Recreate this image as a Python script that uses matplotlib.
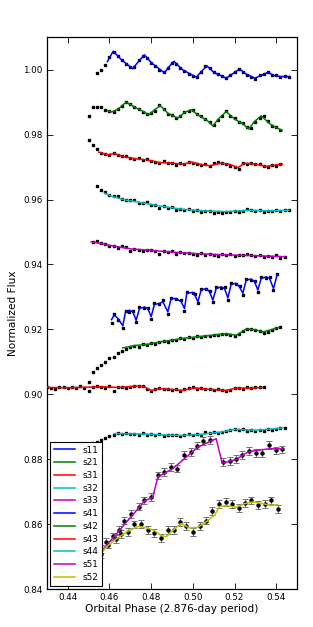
import numpy as np
import matplotlib
matplotlib.use("Agg")
import matplotlib.pyplot as plt

#########################################################
# data
#########################################################
# common phase sampling of the photometry (step 0.002)
grid = [0.430, 0.432, 0.434, 0.436, 0.438, 0.440, 0.442, 0.444, 0.446, 0.448,
        0.450, 0.452, 0.454, 0.456, 0.458, 0.460, 0.462, 0.464, 0.466, 0.468,
        0.470, 0.472, 0.474, 0.476, 0.478, 0.480, 0.482, 0.484, 0.486, 0.488,
        0.490, 0.492, 0.494, 0.496, 0.498, 0.500, 0.502, 0.504, 0.506, 0.508,
        0.510, 0.512, 0.514, 0.516, 0.518, 0.520, 0.522, 0.524, 0.526, 0.528,
        0.530, 0.532, 0.534, 0.536, 0.538, 0.540, 0.542, 0.544, 0.546]

# s11
s11_start = 0.454
s11_flux = [0.9990, 1.0000, 1.0015, 1.0038, 1.0055, 1.0043, 1.0030, 1.0017, 1.0007, 1.0008,
            1.0030, 1.0042, 1.0036, 1.0021, 1.0011, 0.9998, 0.9993, 1.0006, 1.0021, 1.0019,
            1.0005, 0.9996, 0.9987, 0.9982, 0.9979, 0.9993, 1.0010, 1.0006, 0.9994, 0.9986,
            0.9981, 0.9973, 0.9983, 0.9993, 1.0002, 0.9994, 0.9984, 0.9979, 0.9972, 0.9983,
            0.9986, 0.9994, 0.9985, 0.9983, 0.9978, 0.9980, 0.9978]
s11_mx = [0.4590, 0.4618, 0.4655, 0.4711, 0.4730, 0.4768, 0.4800, 0.4864, 0.4880, 0.4909,
          0.4950, 0.5016, 0.5035, 0.5067, 0.5100, 0.5160, 0.5185, 0.5224, 0.5255, 0.5296,
          0.5320, 0.5360, 0.5390, 0.5420, 0.5461]
s11_my = [1.0025, 1.0057, 1.0032, 1.0003, 1.0018, 1.0046, 1.0022, 0.9990, 1.0005, 1.0026,
          1.0000, 0.9977, 0.9990, 1.0012, 0.9992, 0.9974, 0.9985, 1.0002, 0.9987, 0.9974,
          0.9980, 0.9992, 0.9982, 0.9979, 0.9979]

# s21
s21_start = 0.450
s21_flux = [0.9856, 0.9884, 0.9886, 0.9885, 0.9875, 0.9873, 0.9870, 0.9880, 0.9888, 0.9900,
            0.9894, 0.9884, 0.9880, 0.9870, 0.9864, 0.9866, 0.9874, 0.9890, 0.9880, 0.9864,
            0.9860, 0.9851, 0.9856, 0.9869, 0.9874, 0.9876, 0.9862, 0.9856, 0.9848, 0.9838,
            0.9829, 0.9845, 0.9858, 0.9872, 0.9858, 0.9850, 0.9838, 0.9835, 0.9822, 0.9820,
            0.9838, 0.9852, 0.9856, 0.9843, 0.9828, 0.9823, 0.9814]
s21_mx = [0.4591, 0.4610, 0.4640, 0.4680, 0.4720, 0.4760, 0.4789, 0.4815, 0.4844, 0.4880,
          0.4928, 0.4960, 0.4992, 0.5030, 0.5070, 0.5096, 0.5125, 0.5160, 0.5200, 0.5240,
          0.5269, 0.5295, 0.5328, 0.5370, 0.5400, 0.5429]
s21_my = [0.9874, 0.9870, 0.9878, 0.9900, 0.9885, 0.9872, 0.9861, 0.9876, 0.9889, 0.9866,
          0.9851, 0.9868, 0.9877, 0.9858, 0.9843, 0.9827, 0.9850, 0.9871, 0.9848, 0.9833,
          0.9817, 0.9840, 0.9858, 0.9833, 0.9822, 0.9813]

# s31
s31_start = 0.450
s31_flux = [0.9782, 0.9768, 0.9755, 0.9743, 0.9741, 0.9737, 0.9744, 0.9738, 0.9733, 0.9735,
            0.9727, 0.9725, 0.9729, 0.9721, 0.9726, 0.9719, 0.9716, 0.9714, 0.9718, 0.9711,
            0.9714, 0.9707, 0.9711, 0.9708, 0.9716, 0.9713, 0.9710, 0.9706, 0.9709, 0.9702,
            0.9712, 0.9715, 0.9711, 0.9709, 0.9703, 0.9700, 0.9694, 0.9713, 0.9710, 0.9712,
            0.9708, 0.9710, 0.9702, 0.9700, 0.9705, 0.9703, 0.9710]
s31_mx = [0.4549, 0.4591, 0.4624, 0.4660, 0.4720, 0.4780, 0.4840, 0.4900, 0.4952, 0.4997,
          0.5040, 0.5080, 0.5136, 0.5180, 0.5216, 0.5248, 0.5304, 0.5352, 0.5390, 0.5429]
s31_my = [0.9746, 0.9738, 0.9742, 0.9733, 0.9726, 0.9722, 0.9714, 0.9712, 0.9709, 0.9715,
          0.9708, 0.9704, 0.9712, 0.9708, 0.9698, 0.9712, 0.9709, 0.9702, 0.9706, 0.9709]

# s32
s32_start = 0.454
s32_flux = [0.9643, 0.9630, 0.9622, 0.9615, 0.9610, 0.9612, 0.9603, 0.9600, 0.9597, 0.9598,
            0.9590, 0.9588, 0.9591, 0.9582, 0.9583, 0.9574, 0.9579, 0.9574, 0.9576, 0.9569,
            0.9572, 0.9567, 0.9570, 0.9566, 0.9568, 0.9562, 0.9566, 0.9564, 0.9560, 0.9563,
            0.9558, 0.9563, 0.9561, 0.9565, 0.9562, 0.9566, 0.9570, 0.9568, 0.9565, 0.9569,
            0.9563, 0.9566, 0.9564, 0.9568, 0.9565, 0.9568, 0.9569]
s32_mx = [0.4576, 0.4620, 0.4680, 0.4740, 0.4800, 0.4860, 0.4952, 0.5060, 0.5160, 0.5272,
          0.5360, 0.5461]
s32_my = [0.9619, 0.9608, 0.9598, 0.9592, 0.9585, 0.9578, 0.9570, 0.9565, 0.9563, 0.9567,
          0.9565, 0.9567]

# s33
s33_start = 0.452
s33_flux = [0.9468, 0.9472, 0.9465, 0.9462, 0.9456, 0.9458, 0.9451, 0.9457, 0.9455, 0.9442,
            0.9449, 0.9446, 0.9441, 0.9445, 0.9443, 0.9440, 0.9431, 0.9442, 0.9437, 0.9440,
            0.9433, 0.9437, 0.9434, 0.9436, 0.9432, 0.9430, 0.9435, 0.9428, 0.9432, 0.9430,
            0.9427, 0.9431, 0.9429, 0.9432, 0.9427, 0.9430, 0.9428, 0.9431, 0.9430, 0.9426,
            0.9428, 0.9422, 0.9427, 0.9423, 0.9428, 0.9421, 0.9424]
s33_mx = [0.4512, 0.4600, 0.4700, 0.4792, 0.4900, 0.5000, 0.5100, 0.5192, 0.5300, 0.5440]
s33_my = [0.9470, 0.9459, 0.9448, 0.9444, 0.9438, 0.9434, 0.9431, 0.9429, 0.9427, 0.9424]

# s41 (sampled more finely)
s41_x = [0.4610, 0.4622, 0.4640, 0.4664, 0.4677, 0.4696, 0.4712, 0.4728, 0.4744, 0.4768,
         0.4784, 0.4800, 0.4816, 0.4840, 0.4856, 0.4880, 0.4896, 0.4920, 0.4944, 0.4960,
         0.4971, 0.5000, 0.5010, 0.5024, 0.5040, 0.5064, 0.5080, 0.5096, 0.5112, 0.5136,
         0.5152, 0.5168, 0.5184, 0.5208, 0.5224, 0.5240, 0.5256, 0.5280, 0.5296, 0.5312,
         0.5328, 0.5352, 0.5368, 0.5387, 0.5405]
s41_flux = [0.9220, 0.9248, 0.9230, 0.9205, 0.9258, 0.9255, 0.9257, 0.9222, 0.9268, 0.9266,
            0.9267, 0.9233, 0.9280, 0.9278, 0.9289, 0.9248, 0.9297, 0.9292, 0.9289, 0.9258,
            0.9314, 0.9312, 0.9309, 0.9280, 0.9324, 0.9323, 0.9319, 0.9284, 0.9329, 0.9328,
            0.9330, 0.9291, 0.9342, 0.9339, 0.9334, 0.9305, 0.9355, 0.9352, 0.9350, 0.9315,
            0.9360, 0.9359, 0.9361, 0.9320, 0.9372]
s41_my = [0.9230, 0.9244, 0.9234, 0.9211, 0.9254, 0.9259, 0.9254, 0.9228, 0.9264, 0.9269,
          0.9264, 0.9239, 0.9277, 0.9280, 0.9285, 0.9254, 0.9295, 0.9295, 0.9285, 0.9264,
          0.9311, 0.9314, 0.9305, 0.9285, 0.9321, 0.9326, 0.9316, 0.9290, 0.9326, 0.9331,
          0.9326, 0.9297, 0.9339, 0.9342, 0.9331, 0.9311, 0.9352, 0.9355, 0.9347, 0.9321,
          0.9357, 0.9362, 0.9357, 0.9326, 0.9369]

# s42
s42_start = 0.450
s42_flux = [0.9038, 0.9070, 0.9082, 0.9090, 0.9098, 0.9112, 0.9116, 0.9126, 0.9133, 0.9140,
            0.9146, 0.9150, 0.9147, 0.9155, 0.9152, 0.9158, 0.9156, 0.9160, 0.9163, 0.9161,
            0.9167, 0.9166, 0.9172, 0.9170, 0.9175, 0.9174, 0.9178, 0.9176, 0.9180, 0.9178,
            0.9183, 0.9182, 0.9187, 0.9185, 0.9183, 0.9180, 0.9187, 0.9196, 0.9202, 0.9200,
            0.9198, 0.9195, 0.9190, 0.9193, 0.9199, 0.9204, 0.9206]
s42_mx = [0.4664, 0.4720, 0.4792, 0.4840, 0.4952, 0.5048, 0.5160, 0.5208, 0.5256, 0.5300,
          0.5336, 0.5370, 0.5413]
s42_my = [0.9143, 0.9150, 0.9155, 0.9161, 0.9172, 0.9179, 0.9187, 0.9182, 0.9201, 0.9199,
          0.9192, 0.9198, 0.9206]

# s43
s43_start = 0.430
s43_flux = [0.9022, 0.9019, 0.9017, 0.9022, 0.9021, 0.9019, 0.9022, 0.9020, 0.9024, 0.9019,
            0.9010, 0.9022, 0.9025, 0.9023, 0.9020, 0.9025, 0.9010, 0.9021, 0.9022, 0.9019,
            0.9021, 0.9025, 0.9027, 0.9024, 0.9015, 0.9011, 0.9016, 0.9018, 0.9015, 0.9017,
            0.9014, 0.9016, 0.9010, 0.9015, 0.9018, 0.9021, 0.9016, 0.9019, 0.9015, 0.9017,
            0.9013, 0.9016, 0.9012, 0.9010, 0.9014, 0.9018, 0.9020, 0.9017, 0.9022, 0.9020,
            0.9022, 0.9021, 0.9022]
s43_mx = [0.4300, 0.4400, 0.4500, 0.4560, 0.4650, 0.4737, 0.4770, 0.4799, 0.4840, 0.4900,
          0.4952, 0.5010, 0.5060, 0.5160, 0.5208, 0.5280, 0.5336]
s43_my = [0.9021, 0.9020, 0.9022, 0.9023, 0.9021, 0.9026, 0.9022, 0.9012, 0.9017, 0.9015,
          0.9012, 0.9020, 0.9016, 0.9012, 0.9019, 0.9019, 0.9021]

# s44
s44_start = 0.454
s44_flux = [0.8852, 0.8860, 0.8865, 0.8870, 0.8876, 0.8880, 0.8878, 0.8881, 0.8877, 0.8879,
            0.8876, 0.8882, 0.8875, 0.8878, 0.8874, 0.8877, 0.8872, 0.8876, 0.8873, 0.8875,
            0.8871, 0.8874, 0.8878, 0.8875, 0.8879, 0.8876, 0.8883, 0.8880, 0.8885, 0.8881,
            0.8884, 0.8888, 0.8890, 0.8893, 0.8890, 0.8892, 0.8888, 0.8889, 0.8886, 0.8890,
            0.8888, 0.8893, 0.8891, 0.8892, 0.8895, 0.8897]
s44_mx = [0.4624, 0.4700, 0.4792, 0.4880, 0.4952, 0.5050, 0.5100, 0.5140, 0.5200, 0.5300,
          0.5360, 0.5432]
s44_my = [0.8879, 0.8878, 0.8877, 0.8874, 0.8873, 0.8877, 0.8881, 0.8884, 0.8892, 0.8889,
          0.8892, 0.8896]

# s51 (binned, with errors)
s51_x = [0.4560, 0.4584, 0.4616, 0.4645, 0.4672, 0.4704, 0.4741, 0.4768, 0.4800, 0.4832,
         0.4864, 0.4896, 0.4923, 0.4960, 0.4992, 0.5019, 0.5051, 0.5084, 0.5144, 0.5176,
         0.5208, 0.5237, 0.5269, 0.5301, 0.5333, 0.5365, 0.5397, 0.5429]
s51_flux = [0.8524, 0.8544, 0.8562, 0.8582, 0.8611, 0.8632, 0.8654, 0.8673, 0.8683, 0.8750,
            0.8760, 0.8776, 0.8771, 0.8812, 0.8822, 0.8842, 0.8856, 0.8860, 0.8791, 0.8794,
            0.8801, 0.8812, 0.8825, 0.8820, 0.8820, 0.8843, 0.8827, 0.8830]
s51_mx = [0.4540, 0.4768, 0.4808, 0.4832, 0.4904, 0.4968, 0.5024, 0.5112, 0.5141, 0.5208,
          0.5264, 0.5304, 0.5368, 0.5432]
s51_my = [0.8500, 0.8671, 0.8683, 0.8745, 0.8771, 0.8806, 0.8837, 0.8863, 0.8788, 0.8799,
          0.8822, 0.8827, 0.8832, 0.8832]

# s52 (binned, with errors)
s52_x = [0.4560, 0.4592, 0.4629, 0.4656, 0.4688, 0.4720, 0.4752, 0.4784, 0.4816, 0.4848,
         0.4880, 0.4910, 0.4940, 0.4968, 0.5000, 0.5032, 0.5061, 0.5093, 0.5125, 0.5157,
         0.5189, 0.5221, 0.5248, 0.5280, 0.5312, 0.5344, 0.5376, 0.5408]
s52_flux = [0.8508, 0.8537, 0.8555, 0.8570, 0.8575, 0.8599, 0.8601, 0.8582, 0.8572, 0.8558,
            0.8582, 0.8583, 0.8606, 0.8593, 0.8575, 0.8593, 0.8611, 0.8640, 0.8663, 0.8668,
            0.8663, 0.8650, 0.8665, 0.8673, 0.8660, 0.8663, 0.8673, 0.8647]
s52_mx = [0.4539, 0.4584, 0.4632, 0.4680, 0.4736, 0.4776, 0.4816, 0.4848, 0.4872, 0.4904,
          0.4944, 0.4984, 0.5024, 0.5072, 0.5104, 0.5128, 0.5160, 0.5208, 0.5248, 0.5288,
          0.5336, 0.5376, 0.5408]
s52_my = [0.8493, 0.8529, 0.8554, 0.8575, 0.8593, 0.8589, 0.8580, 0.8565, 0.8561, 0.8580,
          0.8602, 0.8588, 0.8590, 0.8611, 0.8627, 0.8654, 0.8657, 0.8652, 0.8663, 0.8668,
          0.8663, 0.8657, 0.8660]

bin_err = 0.0012

#########################################################
# plot
#########################################################
def on_grid(start, flux):
    i0 = int(round((start - grid[0]) / 0.002))
    return grid[i0:i0 + len(flux)], flux[:len(grid) - i0]

plt.rcParams['font.family'] = 'DejaVu Sans'
fig = plt.figure(figsize=(3.13, 6.27), dpi=100)
ax = fig.add_axes([0.150, 0.0606, 0.799, 0.880])

dotkw = dict(ls="none", marker="s", ms=1.9, mfc="k", mec="k", zorder=2)
lw = 1.1

unbinned = [("s11", "b", s11_start, s11_flux, s11_mx, s11_my),
            ("s21", "g", s21_start, s21_flux, s21_mx, s21_my),
            ("s31", "r", s31_start, s31_flux, s31_mx, s31_my),
            ("s32", "c", s32_start, s32_flux, s32_mx, s32_my),
            ("s33", "m", s33_start, s33_flux, s33_mx, s33_my)]
for lab, col, st, fl, mx, my in unbinned:
    xx, yy = on_grid(st, fl)
    ax.plot(xx, yy, **dotkw)
    ax.plot(mx, my, color=col, lw=lw, label=lab, zorder=3)

ax.plot(s41_x, s41_flux, **dotkw)
ax.plot(s41_x, s41_my, color="b", lw=lw, label="s41", zorder=3)

for lab, col, st, fl, mx, my in [("s42", "g", s42_start, s42_flux, s42_mx, s42_my),
                                 ("s43", "r", s43_start, s43_flux, s43_mx, s43_my),
                                 ("s44", "c", s44_start, s44_flux, s44_mx, s44_my)]:
    xx, yy = on_grid(st, fl)
    ax.plot(xx, yy, **dotkw)
    ax.plot(mx, my, color=col, lw=lw, label=lab, zorder=3)

for lab, col, bx, by, mx, my in [("s51", "m", s51_x, s51_flux, s51_mx, s51_my),
                                 ("s52", "y", s52_x, s52_flux, s52_mx, s52_my)]:
    ax.errorbar(bx, by, yerr=bin_err, fmt="o", ms=2.2, mfc="k", mec="k",
                ecolor="0.45", elinewidth=0.7, capsize=2.2, capthick=0.7, zorder=2)
    ax.plot(mx, my, color=col, lw=lw, label=lab, zorder=3)

ax.set_xlim(0.43, 0.55)
ax.set_ylim(0.84, 1.01)
ax.set_xticks([0.44, 0.46, 0.48, 0.50, 0.52, 0.54])
ax.set_yticks([0.84, 0.86, 0.88, 0.90, 0.92, 0.94, 0.96, 0.98, 1.00])
ax.tick_params(direction="in", length=4, width=0.6, top=True, right=True,
               labelsize=6.3, pad=3)
for sp in ax.spines.values():
    sp.set_linewidth(0.9)
ax.set_xlabel("Orbital Phase (2.876-day period)", fontsize=7.6, labelpad=1)
ax.set_ylabel("Normalized Flux", fontsize=7.6, labelpad=4)

leg = ax.legend(loc="lower left", fontsize=6.4, handlelength=2.3, handletextpad=0.9,
                labelspacing=0.42, borderpad=0.45, borderaxespad=0.35,
                fancybox=False, framealpha=1)
leg.get_frame().set_edgecolor("k")
leg.get_frame().set_linewidth(0.8)

fig.savefig("out.png", dpi=100)
